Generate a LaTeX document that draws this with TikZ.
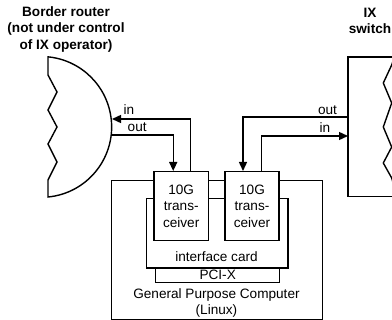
\documentclass[tikz,border=0pt]{standalone}
\usepackage{fontspec}
\setmainfont{Liberation Sans}
\usetikzlibrary{arrows.meta}
\begin{document}
\begin{tikzpicture}[x=1pt,y=-1pt,
  line width=1.4pt, line join=miter,
  every node/.style={font=\fontsize{13.6}{16.5}\selectfont, inner sep=0pt, align=center},
  box/.style={draw, fill=white, line width=1.4pt},
  wire/.style={line width=1.4pt, -{Triangle[length=9pt,width=8pt]}},
  title/.style={font=\fontsize{13.6}{16.5}\selectfont\bfseries}]
\useasboundingbox (0,0) rectangle (392,320);
\clip (0,0) rectangle (392,320);

% border router: zigzag left edge, round right edge
\draw (48,57) -- (48,75) -- (57,92) -- (48,110) -- (57,127) -- (48,144)
      -- (57,162) -- (48,180) -- (48,197)
      arc[start angle=84.5, end angle=-84.5, radius=70.4] -- cycle;
\coordinate (rin)  at (112,119);
\coordinate (rout) at (111,135);
\node[title] (rtitle) at (66,29) {Border router\\(not under control\\of IX operator)};

% IX switch, cut off at the right
\draw (400,57) -- (348,57) -- (348,196.5) -- (400,196.5);
\draw (394,58) -- (391.7,65) -- (383.3,83) -- (391.7,103) -- (383.3,127)
      -- (391.7,147) -- (383.3,163) -- (391.7,178) -- (394,186);
\coordinate (swout) at (348,117);
\coordinate (swin)  at (348,136);
\node[title] (stitle) at (370,21) {IX\\switch};

% general purpose computer
\node[box, minimum width=210.7, minimum height=139, anchor=north west] (pc) at (111,180) {};
\node (pclabel) at (216.5,303) {General Purpose Computer\\(Linux)};

% interface card and bus
\node[box, minimum width=141.6, minimum height=69.6, anchor=north west] (card) at (145.7,197.7) {};
\node (cardlabel) at (216.5,257) {interface card};
\node[box, minimum width=124, minimum height=14.4, anchor=north west] (pci) at (155,267.3) {PCI-X};

% transceivers
\node[box, minimum width=54.3, minimum height=69] (t1) at (181.2,206.2) {10G\\trans-\\ceiver};
\node[box, minimum width=54, minimum height=69] (t2) at (252,206.2) {10G\\trans-\\ceiver};

% links to the border router
\draw[wire] ([xshift=9pt]t1.north) |- (rin);
\draw[wire] (rout) -| ([xshift=-8pt]t1.north);
\node[anchor=west] (lin1) at (123,110) {in};
\node[anchor=west] (lout1) at (127,127.5) {out};

% links to the IX switch
\draw[wire] (swout) -| ([xshift=-9pt]t2.north);
\draw[wire] ([xshift=9.5pt]t2.north) |- (swin);
\node (lout2) at (327.5,110.5) {out};
\node (lin2) at (325,128) {in};
\end{tikzpicture}
\end{document}
